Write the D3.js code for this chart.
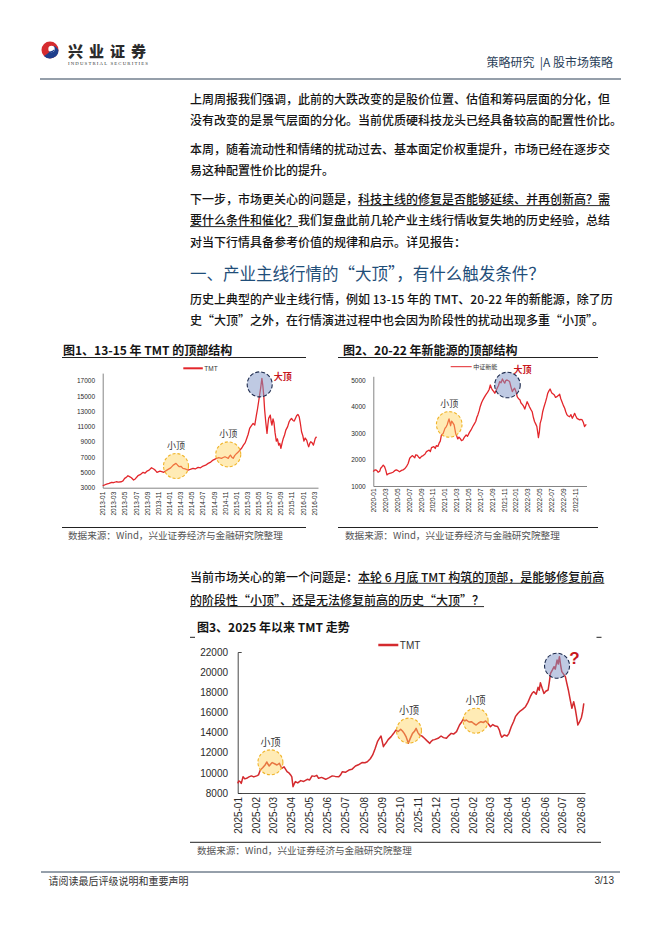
<!DOCTYPE html>
<html>
<head>
<meta charset="utf-8">
<script src="https://cdn.jsdelivr.net/npm/d3@7"></script>
<style>
  html, body { margin: 0; padding: 0; background: #fff; }
  svg { display: block; }
</style>
</head>
<body>
<div id="page"></div>
<script>
// ---- data ----
// fig 1: TMT index 2013-2016
const tmt1315 = [
  ["2013-01-01",3260],["2013-01-10",3350],["2013-01-22",3480],["2013-02-05",3560],["2013-02-19",3700],
  ["2013-03-01",3650],["2013-03-16",3780],["2013-03-28",3720],["2013-04-13",3780],["2013-04-22",3900],
  ["2013-05-01",4220],["2013-05-10",4350],["2013-05-19",4570],["2013-05-28",4450],["2013-06-07",4310],
  ["2013-06-19",4000],["2013-06-28",4150],["2013-07-13",4570],["2013-07-25",4700],["2013-08-10",5010],
  ["2013-08-20",4900],["2013-09-01",5180],["2013-09-12",5300],["2013-09-25",5620],["2013-10-07",5440],
  ["2013-10-15",5300],["2013-10-25",5010],["2013-11-10",5180],["2013-11-20",5100],["2013-12-01",5010],
  ["2013-12-12",5200],["2013-12-25",5400],["2014-01-08",5600],["2014-01-22",5960],["2014-02-06",6180],
  ["2014-02-15",5950],["2014-02-24",5750],["2014-03-05",5800],["2014-03-16",5530],["2014-03-28",5450],
  ["2014-04-13",5310],["2014-04-25",5400],["2014-05-10",5530],["2014-05-22",5450],["2014-06-07",5660],
  ["2014-06-20",5600],["2014-07-04",5830],["2014-07-18",5950],["2014-08-01",6180],["2014-08-15",6350],
  ["2014-08-28",6620],["2014-09-08",6750],["2014-09-16",6840],["2014-09-28",6950],["2014-10-13",6840],
  ["2014-10-22",6950],["2014-11-01",7050],["2014-11-10",6950],["2014-11-19",6840],["2014-11-25",7100],
  ["2014-12-01",7270],["2014-12-08",7000],["2014-12-16",6840],["2014-12-24",7200],["2015-01-04",7490],
  ["2015-01-14",7700],["2015-01-22",7930],["2015-02-01",8200],["2015-02-10",8580],["2015-02-20",8900],
  ["2015-02-28",9450],["2015-03-08",10000],["2015-03-16",10760],["2015-03-25",11100],["2015-04-04",11410],
  ["2015-04-13",11200],["2015-04-22",12500],["2015-04-28",13300],["2015-05-04",14250],["2015-05-10",15200],
  ["2015-05-15",15990],["2015-05-22",17300],["2015-05-27",16400],["2015-06-01",15120],["2015-06-06",13200],
  ["2015-06-12",11630],["2015-06-19",10110],["2015-06-24",11300],["2015-06-28",12070],["2015-07-07",12500],
  ["2015-07-12",11600],["2015-07-16",11200],["2015-07-22",12000],["2015-07-27",11550],["2015-08-02",10200],
  ["2015-08-09",9100],["2015-08-15",9400],["2015-08-22",8580],["2015-08-28",8800],["2015-09-03",8140],
  ["2015-09-10",8900],["2015-09-16",9450],["2015-09-23",9900],["2015-09-30",10540],["2015-10-10",11000],
  ["2015-10-18",11630],["2015-10-25",11900],["2015-10-31",12070],["2015-11-08",11800],["2015-11-15",11720],
  ["2015-11-22",12100],["2015-11-28",12420],["2015-12-05",12600],["2015-12-12",12290],["2015-12-18",11500],
  ["2015-12-25",10320],["2016-01-01",9800],["2016-01-07",9100],["2016-01-14",9500],["2016-01-22",9230],
  ["2016-01-28",8700],["2016-02-02",8360],["2016-02-08",8800],["2016-02-13",9020],["2016-02-20",8900],
  ["2016-02-28",8580],["2016-03-04",9000],["2016-03-09",9450],["2016-03-16",9670]
];
const tops1315 = [
  { date: "2014-02-06", value: 5835, kind: "small" },
  { date: "2014-11-19", value: 7360, kind: "small" },
  { date: "2015-05-10", value: 16520, kind: "big" }
];
const yTicks1315 = [3000, 5000, 7000, 9000, 11000, 13000, 15000, 17000];

// fig 2: CSI new energy 2020-2022
const newEnergy = [
  ["2020-01-01",1540],["2020-01-07",1600],["2020-01-14",1610],["2020-01-20",1580],["2020-01-26",1520],
  ["2020-02-03",1560],["2020-02-08",1670],["2020-02-14",1720],["2020-02-21",1790],["2020-02-28",1730],
  ["2020-03-05",1600],["2020-03-11",1420],["2020-03-18",1460],["2020-03-25",1480],["2020-04-03",1500],
  ["2020-04-11",1520],["2020-04-20",1580],["2020-04-28",1610],["2020-05-07",1580],["2020-05-15",1540],
  ["2020-05-25",1590],["2020-06-02",1610],["2020-06-10",1650],["2020-06-19",1730],["2020-06-28",1850],
  ["2020-07-06",2050],["2020-07-12",2100],["2020-07-19",2150],["2020-08-01",2070],["2020-08-06",2180],
  ["2020-08-13",2170],["2020-08-20",2100],["2020-08-27",2050],["2020-09-05",2120],["2020-09-13",2150],
  ["2020-09-22",2200],["2020-09-30",2300],["2020-10-14",2360],["2020-10-20",2300],["2020-10-26",2450],
  ["2020-11-07",2490],["2020-11-14",2420],["2020-11-20",2530],["2020-11-28",2500],["2020-12-04",2620],
  ["2020-12-10",2700],["2020-12-16",2930],["2020-12-25",2990],["2021-01-03",3180],["2021-01-10",3250],
  ["2021-01-15",3330],["2021-01-20",3450],["2021-01-24",3540],["2021-02-01",3280],["2021-02-06",3450],
  ["2021-02-11",3410],["2021-02-19",3310],["2021-02-23",3150],["2021-02-27",2990],["2021-03-04",2900],
  ["2021-03-10",2780],["2021-03-16",2850],["2021-03-22",2800],["2021-03-29",2720],["2021-04-05",2740],
  ["2021-04-13",2850],["2021-04-22",2930],["2021-04-29",2880],["2021-05-09",3030],["2021-05-17",3120],
  ["2021-05-26",3250],["2021-06-03",3350],["2021-06-10",3440],["2021-06-16",3600],["2021-06-21",3690],
  ["2021-06-28",3850],["2021-07-03",4000],["2021-07-10",4150],["2021-07-17",4260],["2021-07-24",4350],
  ["2021-07-31",4440],["2021-08-06",4500],["2021-08-12",4570],["2021-08-18",4650],["2021-08-24",4820],
  ["2021-08-30",4700],["2021-09-04",4630],["2021-09-10",4580],["2021-09-16",4510],["2021-09-22",4600],
  ["2021-09-28",4700],["2021-10-05",4800],["2021-10-11",4950],["2021-10-18",4900],["2021-10-25",5050],
  ["2021-11-01",4950],["2021-11-06",4890],["2021-11-12",5000],["2021-11-18",5010],["2021-11-25",4980],
  ["2021-12-01",4950],["2021-12-08",4750],["2021-12-15",4570],["2021-12-21",4650],["2021-12-27",4700],
  ["2022-01-04",4550],["2022-01-09",4380],["2022-01-16",4300],["2022-01-23",4260],["2022-01-28",4150],
  ["2022-02-06",4070],["2022-02-12",4000],["2022-02-17",3910],["2022-02-23",4050],["2022-03-01",4190],
  ["2022-03-07",4100],["2022-03-13",4000],["2022-03-20",3900],["2022-03-27",3810],["2022-04-02",3600],
  ["2022-04-08",3440],["2022-04-14",3350],["2022-04-20",3250],["2022-04-26",2950],["2022-04-28",2830],
  ["2022-05-03",3050],["2022-05-07",3370],["2022-05-14",3550],["2022-05-20",3810],["2022-05-27",4000],
  ["2022-06-04",4190],["2022-06-10",4350],["2022-06-15",4510],["2022-06-21",4600],["2022-06-27",4670],
  ["2022-07-02",4580],["2022-07-07",4510],["2022-07-13",4480],["2022-07-19",4440],["2022-07-25",4350],
  ["2022-08-01",4380],["2022-08-08",4420],["2022-08-15",4470],["2022-08-21",4300],["2022-08-27",4190],
  ["2022-09-03",4050],["2022-09-10",3940],["2022-09-16",3800],["2022-09-22",3690],["2022-09-28",3650],
  ["2022-10-05",3620],["2022-10-12",3700],["2022-10-19",3560],["2022-10-25",3650],["2022-10-31",3750],
  ["2022-11-06",3650],["2022-11-12",3560],["2022-11-19",3530],["2022-11-26",3500],["2022-12-02",3520],
  ["2022-12-09",3500],["2022-12-15",3400],["2022-12-21",3250],["2022-12-26",3300],["2022-12-30",3330]
];
const topsNewEnergy = [
  { date: "2021-01-25", value: 3330, kind: "small" },
  { date: "2021-11-20", value: 4820, kind: "big" }
];
const yTicksNewEnergy = [1000, 2000, 3000, 4000, 5000];

// fig 3: TMT since 2025
const tmt2025 = [
  ["2025-01-01",8960],["2025-01-03",9200],["2025-01-05",9130],["2025-01-07",8950],["2025-01-10",9620],
  ["2025-01-13",9400],["2025-01-16",9460],["2025-01-20",9600],["2025-01-24",9700],["2025-01-28",9600],
  ["2025-02-02",9700],["2025-02-05",9800],["2025-02-08",10280],["2025-02-12",10500],["2025-02-16",10780],
  ["2025-02-19",11080],["2025-02-21",10850],["2025-02-23",10680],["2025-02-26",10900],["2025-02-28",11020],
  ["2025-03-04",10900],["2025-03-08",10780],["2025-03-12",10950],["2025-03-16",10450],["2025-03-20",10600],
  ["2025-03-25",10120],["2025-03-28",10000],["2025-03-31",9790],["2025-04-02",9600],["2025-04-04",8630],
  ["2025-04-06",8900],["2025-04-08",9130],["2025-04-12",9000],["2025-04-17",9230],["2025-04-22",9150],
  ["2025-04-28",9360],["2025-05-02",9300],["2025-05-06",9700],["2025-05-10",9650],["2025-05-14",9750],
  ["2025-05-17",9460],["2025-05-22",9550],["2025-05-29",9360],["2025-06-03",9500],["2025-06-09",9700],
  ["2025-06-14",9650],["2025-06-20",9620],["2025-06-23",9800],["2025-06-26",10120],["2025-07-01",10050],
  ["2025-07-07",10280],["2025-07-12",10350],["2025-07-18",10680],["2025-07-23",10800],["2025-07-29",11020],
  ["2025-08-03",11000],["2025-08-07",11100],["2025-08-12",11400],["2025-08-16",11780],["2025-08-20",12400],
  ["2025-08-24",13100],["2025-08-27",13400],["2025-08-30",13660],["2025-09-03",12600],["2025-09-05",12800],
  ["2025-09-07",12930],["2025-09-11",13300],["2025-09-16",13600],["2025-09-20",13900],["2025-09-24",14250],
  ["2025-09-28",14100],["2025-10-02",14330],["2025-10-05",14150],["2025-10-08",13920],["2025-10-11",13600],
  ["2025-10-15",12930],["2025-10-18",13400],["2025-10-22",13920],["2025-10-25",14100],["2025-10-28",14420],
  ["2025-10-31",14000],["2025-11-03",13760],["2025-11-07",13650],["2025-11-11",13430],["2025-11-15",13200],
  ["2025-11-20",12930],["2025-11-22",13100],["2025-11-25",13260],["2025-11-28",13300],["2025-12-04",13430],
  ["2025-12-09",13660],["2025-12-13",13500],["2025-12-18",13430],["2025-12-22",13700],["2025-12-26",13920],
  ["2025-12-30",13850],["2026-01-04",14090],["2026-01-09",14750],["2026-01-12",15000],["2026-01-15",15310],
  ["2026-01-18",15150],["2026-01-20",15250],["2026-01-25",15050],["2026-01-29",15080],["2026-02-02",14900],
  ["2026-02-06",14750],["2026-02-10",14950],["2026-02-14",15080],["2026-02-18",15000],["2026-02-22",15150],
  ["2026-02-26",14900],["2026-03-02",14580],["2026-03-06",14800],["2026-03-10",14650],["2026-03-14",14600],
  ["2026-03-17",14250],["2026-03-19",13800],["2026-03-21",13530],["2026-03-25",13750],["2026-03-30",13660],
  ["2026-04-02",13900],["2026-04-06",14580],["2026-04-10",15100],["2026-04-13",15580],["2026-04-17",15900],
  ["2026-04-21",16140],["2026-04-25",16300],["2026-04-30",16570],["2026-05-04",17000],["2026-05-08",17560],
  ["2026-05-11",17900],["2026-05-14",18060],["2026-05-18",17800],["2026-05-21",18490],["2026-05-23",18200],
  ["2026-05-25",18950],["2026-05-28",18400],["2026-05-31",17890],["2026-06-03",18100],["2026-06-07",18230],
  ["2026-06-09",19000],["2026-06-11",19880],["2026-06-14",20200],["2026-06-17",20540],["2026-06-19",20300],
  ["2026-06-22",21200],["2026-06-24",20800],["2026-06-26",21540],["2026-06-28",20700],["2026-06-30",20050],
  ["2026-07-03",19800],["2026-07-06",19550],["2026-07-08",19000],["2026-07-11",18230],["2026-07-14",17300],
  ["2026-07-17",16410],["2026-07-20",17070],["2026-07-23",16240],["2026-07-25",15500],["2026-07-27",14750],
  ["2026-07-30",15080],["2026-08-02",15500],["2026-08-04",16070],["2026-08-06",16900]
];
const tops2025 = [
  { date: "2025-02-25", value: 11045, kind: "small" },
  { date: "2025-10-16", value: 14190, kind: "small" },
  { date: "2026-02-05", value: 15180, kind: "small" },
  { date: "2026-06-22", value: 20640, kind: "big" }
];
const yTicks2025 = [8000, 10000, 12000, 14000, 16000, 18000, 20000, 22000];

// ---- page setup ----
const W = 662, H = 936;
const CJK = "'Noto Sans CJK SC', 'Noto Sans', sans-serif";
const LATIN = "'Liberation Sans', Arial, sans-serif";
const parseDate = d3.timeParse("%Y-%m-%d");

const svg = d3.select("#page").append("svg")
    .attr("width", W).attr("height", H)
    .attr("viewBox", `0 0 ${W} ${H}`);
svg.append("rect").attr("width", W).attr("height", H).attr("fill", "#fff");

// header
const logo = svg.append("g").attr("transform", "translate(50,50)");
logo.append("circle").attr("r", 8.5).attr("fill", "#d52b2f");
logo.append("path")
    .attr("d", "M8.5,0 A8.5,8.5 0 0 1 -6,6 C-2,4 1,1 2,-3 C3,-5 6,-4 8.5,0 Z")
    .attr("fill", "#1f3f8c");
logo.append("circle").attr("cx", 1.5).attr("cy", -1).attr("r", 3.2).attr("fill", "#fff");
logo.append("path")
    .attr("d", "M-1.5,1.5 C0,3 3,2.5 4.6,0.5 L4,-0.5 C2.5,1 0.5,1.5 -1.5,1.5 Z")
    .attr("fill", "#1f3f8c");

svg.append("text").attr("x", 68).attr("y", 50.5).attr("dominant-baseline", "central")
    .attr("font-family", CJK).attr("font-weight", 900).attr("font-size", 15)
    .attr("letter-spacing", 6).attr("fill", "#2b2b2b").text("兴业证券");
svg.append("text").attr("x", 68).attr("y", 63).attr("dominant-baseline", "central")
    .attr("font-family", "'Liberation Serif', serif").attr("font-size", 4.8)
    .attr("textLength", 80).attr("lengthAdjust", "spacing")
    .attr("fill", "#333").text("INDUSTRIAL SECURITIES");
svg.append("text").attr("x", 613).attr("y", 61).attr("dominant-baseline", "central")
    .attr("text-anchor", "end").attr("font-family", CJK).attr("font-size", 12)
    .attr("fill", "#2b3f5a").attr("xml:space", "preserve").text("策略研究  |A 股市场策略");
svg.append("line").attr("x1", 40).attr("x2", 621).attr("y1", 79).attr("y2", 79)
    .attr("stroke", "#2d4156").attr("stroke-width", 1.2);

// footer
svg.append("line").attr("x1", 41).attr("x2", 620).attr("y1", 872).attr("y2", 872)
    .attr("stroke", "#2d4156").attr("stroke-width", 1);
svg.append("text").attr("x", 48.5).attr("y", 880).attr("dominant-baseline", "central")
    .attr("font-family", CJK).attr("font-size", 10).attr("fill", "#333")
    .text("请阅读最后评级说明和重要声明");
svg.append("text").attr("x", 614).attr("y", 880).attr("dominant-baseline", "central")
    .attr("text-anchor", "end").attr("font-family", LATIN).attr("font-size", 10)
    .attr("fill", "#333").text("3/13");

// body text: each line is a list of parts, underlined parts flagged with u
function textLine(y, parts, opts = {}) {
    let cx = opts.x || 190;
    parts.forEach(p => {
        const t = svg.append("text")
            .attr("x", cx).attr("y", y)
            .attr("dominant-baseline", "central")
            .attr("font-family", CJK)
            .attr("font-size", opts.size || 12)
            .attr("font-weight", opts.weight || 500)
            .attr("fill", opts.color || "#141414")
            .text(p.t);
        const w = t.node().getComputedTextLength();
        if (p.u) {
            svg.append("line").attr("x1", cx).attr("x2", cx + w)
                .attr("y1", y + 7.3).attr("y2", y + 7.3)
                .attr("stroke", "#111").attr("stroke-width", 0.9);
        }
        cx += w;
    });
}

textLine(98.3, [{ t: "上周周报我们强调，此前的大跌改变的是股价位置、估值和筹码层面的分化，但" }]);
textLine(119.3, [{ t: "没有改变的是景气层面的分化。当前优质硬科技龙头已经具备较高的配置性价比。" }]);
textLine(148.3, [{ t: "本周，随着流动性和情绪的扰动过去、基本面定价权重提升，市场已经在逐步交" }]);
textLine(169.3, [{ t: "易这种配置性价比的提升。" }]);
textLine(198.3, [{ t: "下一步，市场更关心的问题是，" }, { t: "科技主线的修复是否能够延续、并再创新高？需", u: true }]);
textLine(219.3, [{ t: "要什么条件和催化？", u: true }, { t: "我们复盘此前几轮产业主线行情收复失地的历史经验，总结" }]);
textLine(241.7, [{ t: "对当下行情具备参考价值的规律和启示。详见报告：" }]);
textLine(273.3, [{ t: "一、产业主线行情的“大顶”，有什么触发条件？" }],
    { size: 16.5, weight: 400, color: "#1f4e79" });
textLine(298.3, [{ t: "历史上典型的产业主线行情，例如 13-15 年的 TMT、20-22 年的新能源，除了历" }]);
textLine(319.3, [{ t: "史“大顶”之外，在行情演进过程中也会因为阶段性的扰动出现多重“小顶”。" }]);
textLine(576, [{ t: "当前市场关心的第一个问题是：" }, { t: "本轮 6 月底 TMT 构筑的顶部，是能够修复前高", u: true }]);
textLine(599.3, [{ t: "的阶段性“小顶”、还是无法修复前高的历史“大顶”？", u: true }]);

// chart frame: title, rules, source
function chartFrame(f) {
    svg.append("text").attr("x", f.titleX).attr("y", f.titleY).attr("dominant-baseline", "central")
        .attr("font-family", CJK).attr("font-weight", 700).attr("font-size", 12)
        .attr("fill", "#141414").text(f.title);
    if (f.ruleTop) {
        svg.append("line").attr("x1", f.x1).attr("x2", f.x2).attr("y1", f.ruleTop).attr("y2", f.ruleTop)
            .attr("stroke", "#222").attr("stroke-width", 1);
    }
    svg.append("line").attr("x1", f.x1).attr("x2", f.x2).attr("y1", f.ruleBottom).attr("y2", f.ruleBottom)
        .attr("stroke", "#222").attr("stroke-width", 1);
    svg.append("text").attr("x", f.srcX).attr("y", f.ruleBottom + 7.5).attr("dominant-baseline", "central")
        .attr("font-family", CJK).attr("font-size", 9.6).attr("fill", "#555")
        .text("数据来源：Wind，兴业证券经济与金融研究院整理");
}

function drawLineChart(c) {
    const x = d3.scaleTime().domain(c.xDomain.map(parseDate)).range(c.xRange);
    const y = d3.scaleLinear().domain(c.yDomain).range(c.yRange);
    const g = svg.append("g");

    const yAxis = d3.axisLeft(y).tickValues(c.yTicks).tickSize(0)
        .tickSizeOuter(c.outerTick || 0).tickPadding(c.yPad).tickFormat(d3.format("d"));
    const gy = g.append("g").attr("transform", `translate(${c.xRange[0]},0)`).call(yAxis);

    const xAxis = d3.axisBottom(x).ticks(d3.timeMonth.every(c.monthStep))
        .tickSize(0).tickSizeOuter(0).tickFormat(d3.timeFormat("%Y-%m"));
    const gx = g.append("g").attr("transform", `translate(0,${c.yRange[0]})`).call(xAxis);
    gx.selectAll("text")
        .attr("y", 0).attr("x", -c.xPad).attr("dy", "0.35em")
        .attr("transform", "rotate(-90)")
        .style("text-anchor", "end");

    [gx, gy].forEach(a => {
        a.select(".domain").attr("stroke", c.axisColor).attr("stroke-width", 0.9);
        a.selectAll("text").attr("font-family", LATIN).attr("font-size", c.tickSize).attr("fill", "#2a2a2a");
    });

    const line = d3.line()
        .x(d => x(parseDate(d[0])))
        .y(d => y(d[1]));
    g.append("path").datum(c.data)
        .attr("d", line)
        .attr("fill", "none")
        .attr("stroke", c.color)
        .attr("stroke-width", c.lineWidth)
        .attr("stroke-linejoin", "round");

    // legend
    const lg = c.legend;
    g.append("line").attr("x1", lg.x).attr("x2", lg.x + lg.len).attr("y1", lg.y).attr("y2", lg.y)
        .attr("stroke", c.color).attr("stroke-width", lg.width);
    g.append("text").attr("x", lg.x + lg.len + 1.5).attr("y", lg.y).attr("dominant-baseline", "central")
        .attr("font-family", lg.cjk ? CJK : LATIN).attr("font-size", lg.size).attr("fill", "#333")
        .text(lg.label);

    // tops
    c.tops.forEach(t => {
        const cx = x(parseDate(t.date)), cy = y(t.value);
        const big = t.kind === "big";
        g.append("circle").attr("cx", cx).attr("cy", cy).attr("r", c.r)
            .attr("fill", big ? "rgba(128,150,200,0.5)" : "rgba(255,210,90,0.45)")
            .attr("stroke", big ? "#1c2a4d" : "#f0b429")
            .attr("stroke-width", 1.1)
            .attr("stroke-dasharray", big ? "4,2" : "3,2");
        if (big) {
            if (c.bigLabel) {
                g.append("text").attr("x", cx + c.bigLabel.dx).attr("y", cy + c.bigLabel.dy)
                    .attr("dominant-baseline", "central").attr("text-anchor", "middle")
                    .attr("font-family", c.bigLabel.cjk ? CJK : LATIN).attr("font-weight", 700)
                    .attr("font-size", c.bigLabel.size).attr("fill", "#c8161d")
                    .text(c.bigLabel.text);
            }
        } else {
            g.append("text").attr("x", cx).attr("y", cy - 21)
                .attr("dominant-baseline", "central").attr("text-anchor", "middle")
                .attr("font-family", CJK).attr("font-size", c.smallSize).attr("fill", "#333")
                .text("小顶");
        }
    });
}

// fig 1
chartFrame({ title: "图1、13-15 年 TMT 的顶部结构", titleX: 63, titleY: 349, x1: 62, x2: 306,
    ruleTop: 357.5, ruleBottom: 527.5, srcX: 68 });
drawLineChart({
    data: tmt1315, tops: tops1315, yTicks: yTicks1315,
    xDomain: ["2013-01-01", "2016-03-24"], xRange: [102.7, 318],
    yDomain: [3000, 18000], yRange: [487.7, 373.1],
    monthStep: 2, yPad: 7.7, xPad: 4, tickSize: 6.5, axisColor: "#777",
    color: "#e3262b", lineWidth: 1.3, r: 12.5, smallSize: 9,
    legend: { x: 183.3, len: 19.5, y: 368.3, width: 2, label: "TMT", size: 6.5 },
    bigLabel: { text: "大顶", dx: 23, dy: -8, size: 9, cjk: true }
});

// fig 2
chartFrame({ title: "图2、20-22 年新能源的顶部结构", titleX: 343, titleY: 349, x1: 338, x2: 598,
    ruleTop: 357.5, ruleBottom: 527.5, srcX: 345 });
drawLineChart({
    data: newEnergy, tops: topsNewEnergy, yTicks: yTicksNewEnergy,
    xDomain: ["2020-01-01", "2022-12-31"], xRange: [373.3, 586.5],
    yDomain: [1000, 5150], yRange: [486, 376.3],
    monthStep: 2, yPad: 7.6, xPad: 2.5, tickSize: 6.5, axisColor: "#777",
    color: "#e3262b", lineWidth: 1.3, r: 12.8, smallSize: 9,
    legend: { x: 450.7, len: 21, y: 366.7, width: 1, label: "中证新能", size: 6, cjk: true },
    bigLabel: { text: "大顶", dx: 15, dy: -16, size: 9, cjk: true }
});

// fig 3
chartFrame({ title: "图3、2025 年以来 TMT 走势", titleX: 197, titleY: 626.7, x1: 190, x2: 601,
    ruleBottom: 842.3, srcX: 197 });
svg.append("line").attr("x1", 190).attr("x2", 195).attr("y1", 637.3).attr("y2", 637.3)
    .attr("stroke", "#222").attr("stroke-width", 1);
svg.append("line").attr("x1", 596.5).attr("x2", 601.5).attr("y1", 637.3).attr("y2", 637.3)
    .attr("stroke", "#222").attr("stroke-width", 1);
drawLineChart({
    data: tmt2025, tops: tops2025, yTicks: yTicks2025,
    xDomain: ["2025-01-01", "2026-08-08"], xRange: [237.7, 585],
    yDomain: [8000, 22000], yRange: [793, 652],
    monthStep: 1, yPad: 9.7, xPad: 4, tickSize: 10, axisColor: "#333", outerTick: -4,
    color: "#d42a2e", lineWidth: 1.5, r: 12.5, smallSize: 10,
    legend: { x: 378.3, len: 20, y: 645, width: 2.5, label: "TMT", size: 10 },
    bigLabel: { text: "?", dx: 17.5, dy: -7.5, size: 17, cjk: false }
});
</script>
</body>
</html>
